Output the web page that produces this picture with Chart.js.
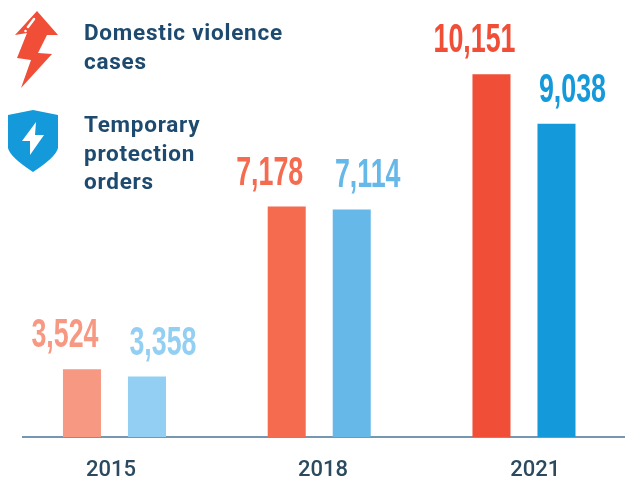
<!DOCTYPE html>
<html><head><meta charset="utf-8">
<style>html,body{margin:0;padding:0;background:#fff}canvas{display:block}</style>
<script src="https://cdn.jsdelivr.net/npm/chart.js@4"></script>
</head><body><canvas id="c" width="625" height="479"></canvas>
<script>
const years = [2015, 2018, 2021];
const domesticViolence = [3524, 7178, 10151];
const protectionOrders = [3358, 7114, 9038];
const redColors = ['#F79882', '#F46B50', '#F04E37'];
const blueColors = ['#92CFF3', '#66B8E9', '#1499DA'];
const legendRed = ['Domestic violence', 'cases'];
const legendBlue = ['Temporary', 'protection', 'orders'];
const inkColor = '#1D4A6E';

function poly(ctx, pts, fill) {
  ctx.beginPath();
  pts.forEach((p, i) => i ? ctx.lineTo(p[0], p[1]) : ctx.moveTo(p[0], p[1]));
  ctx.closePath(); ctx.fillStyle = fill; ctx.fill();
}
const decor = {
  id: 'decor',
  afterDatasetsDraw(chart) {
    const ctx = chart.ctx;
    ctx.save();
    // value labels
    const shift = [-17, 16];
    chart.data.datasets.forEach((ds, di) => {
      chart.getDatasetMeta(di).data.forEach((bar, i) => {
        const v = ds.data[i].y.toLocaleString('en-US');
        ctx.save();
        ctx.translate(bar.x + shift[di], bar.y - 22);
        ctx.scale(0.67, 1);
        ctx.font = 'bold 40px "Liberation Sans Narrow","Liberation Sans"';
        ctx.textAlign = 'center'; ctx.textBaseline = 'alphabetic';
        ctx.fillStyle = ds.backgroundColor[i];
        ctx.fillText(v, 0, 0);
        ctx.restore();
      });
    });
    // legend text
    ctx.font = 'bold 22.5px Roboto';
    ctx.fillStyle = inkColor; ctx.textAlign = 'left'; ctx.textBaseline = 'alphabetic';
    if ('letterSpacing' in ctx) ctx.letterSpacing = '0.75px';
    legendRed.forEach((t, i) => ctx.fillText(t, 84, 40 + i * 28.5));
    legendBlue.forEach((t, i) => ctx.fillText(t, 84, 132 + i * 28.5));
    if ('letterSpacing' in ctx) ctx.letterSpacing = '0px';
    // bolt icon
    poly(ctx, [[37,11],[58,35],[47,35],[38,53],[52,54],[21,88],[31,60],[17,58],[27,33],[15,35]], '#F04E37');
    ctx.strokeStyle = '#fff'; ctx.lineWidth = 2.5; ctx.lineCap = 'round';
    ctx.beginPath(); ctx.moveTo(34, 19); ctx.lineTo(28, 27); ctx.stroke();
    ctx.fillStyle = '#fff'; ctx.beginPath(); ctx.arc(25.5, 31, 1.3, 0, 7); ctx.fill();
    // shield icon
    ctx.beginPath();
    ctx.moveTo(33, 110); ctx.lineTo(58, 115); ctx.lineTo(58, 148);
    ctx.quadraticCurveTo(56, 157, 33, 172);
    ctx.quadraticCurveTo(10, 157, 8, 148);
    ctx.lineTo(8, 115); ctx.closePath();
    ctx.fillStyle = '#1499DA'; ctx.fill();
    poly(ctx, [[36,122],[22,141],[30,141],[30,155],[44,135],[35,135]], '#fff');
    ctx.restore();
  }
};

new Chart(document.getElementById('c'), {
  type: 'bar',
  data: {
    datasets: [
      { label: 'Domestic violence cases', data: years.map((y, i) => ({ x: y, y: domesticViolence[i] })), backgroundColor: redColors, categoryPercentage: 0.635, barPercentage: 0.585 },
      { label: 'Temporary protection orders', data: years.map((y, i) => ({ x: y, y: protectionOrders[i] })), backgroundColor: blueColors, categoryPercentage: 0.635, barPercentage: 0.585 }
    ]
  },
  options: {
    responsive: false, animation: false,
    layout: { padding: { left: 23, right: 0, top: 0, bottom: 0 } },
    plugins: { legend: { display: false }, tooltip: { enabled: false } },
    scales: {
      y: { display: false, min: 2000, max: 11820 },
      x: {
        type: 'linear', offset: false, min: 2013.66, max: 2022.48, z: 1,
        grid: { display: false, offset: false },
        border: { display: true, color: 'rgba(45,95,135,0.65)', width: 2 },
        ticks: { display: false },
        afterBuildTicks(s) { s.ticks = years.map(v => ({ value: v })); },
        afterFit(s) { s.height = 0; }
      },
      x2: {
        type: 'linear', position: 'bottom', offset: false, min: 2013.755, max: 2022.27,
        grid: { display: false }, border: { display: false },
        afterBuildTicks(s) { s.ticks = years.map(v => ({ value: v })); },
        ticks: {
          autoSkip: false, maxRotation: 0, padding: 12,
          color: '#2B4A5F', font: { family: 'Roboto', size: 22, weight: '500' },
          callback: v => String(v)
        },
        afterFit(s) { s.height = 42; }
      }
    }
  },
  plugins: [decor]
});
</script></body></html>
